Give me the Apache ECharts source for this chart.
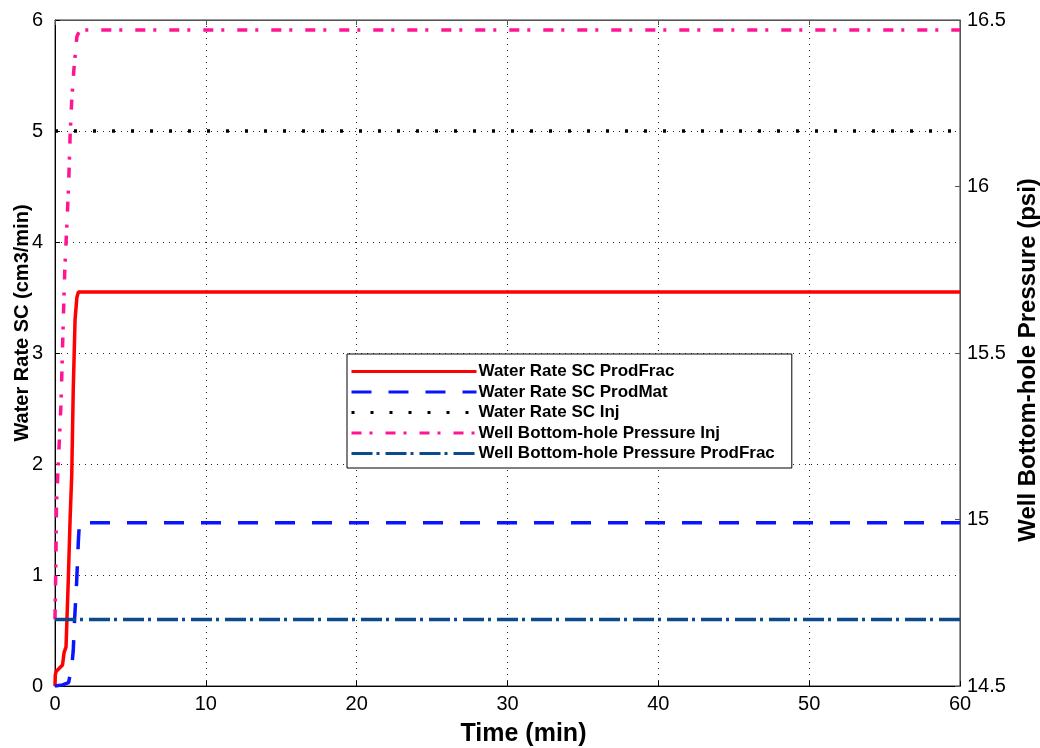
<!DOCTYPE html>
<html>
<head>
<meta charset="utf-8">
<script src="https://cdn.jsdelivr.net/npm/echarts@6/dist/echarts.min.js"></script>
<style>
  html, body { margin: 0; padding: 0; background: #fff; }
  #chart { width: 1040px; height: 748px; }
</style>
</head>
<body>
<div id="chart"></div>
<script>
// Time in minutes, water rates in cm3/min, pressures in psi
const prodFracTime = [0, 0.02, 0.07, 0.5, 0.6, 0.73, 0.88, 1.0, 1.11, 1.21, 1.33, 1.45, 1.55, 60];
const prodFracRate = [0, 0.1, 0.13, 0.19, 0.3, 0.35, 0.95, 1.5, 1.9, 2.67, 3.3, 3.5, 3.55, 3.55];

const prodMatTime = [0, 0.5, 0.9, 1.0, 1.11, 1.21, 1.3, 1.44, 1.55, 1.62, 60];
const prodMatRate = [0, 0.01, 0.03, 0.1, 0.17, 0.32, 0.6, 0.95, 1.31, 1.47, 1.47];

const injTime = [0, 60];
const injRate = [5, 5];

const injBhpTime = [0, 0.05, 0.1, 0.25, 0.4, 0.55, 0.65, 0.9, 1.0, 1.1, 1.25, 1.45, 1.65, 60];
const injBhp = [14.7, 14.85, 15.05, 15.2, 15.35, 15.6, 15.75, 16.0, 16.15, 16.25, 16.35, 16.45, 16.47, 16.47];

const prodFracBhpTime = [0, 60];
const prodFracBhp = [14.7, 14.7];

const timeTicks = { min: 0, max: 60, step: 10 };
const rateTicks = { min: 0, max: 6, step: 1 };
const pressureTicks = { min: 14.5, max: 16.5, step: 0.5 };

const seriesNames = [
  'Water Rate SC ProdFrac',
  'Water Rate SC ProdMat',
  'Water Rate SC Inj',
  'Well Bottom-hole Pressure Inj',
  'Well Bottom-hole Pressure ProdFrac'
];

const zip = (xs, ys) => xs.map((x, i) => [x, ys[i]]);

const styles = [
  { color: '#ff0000', width: 3.5, type: 'solid', axis: 0, data: zip(prodFracTime, prodFracRate) },
  { color: '#0a14ff', width: 3.5, type: [20, 17], axis: 0, data: zip(prodMatTime, prodMatRate) },
  { color: '#000000', width: 3.5, type: [3, 16], axis: 0, data: zip(injTime, injRate) },
  { color: '#ff1493', width: 3.5, type: [10, 8, 3, 13], axis: 1, data: zip(injBhpTime, injBhp) },
  { color: '#0b4a8c', width: 3.5, type: [21, 4, 3, 6], axis: 1, data: zip(prodFracBhpTime, prodFracBhp) }
];

const font = 'Liberation Sans, Arial, sans-serif';
const gridLine = { show: true, lineStyle: { color: '#000', width: 1, type: [1, 5], opacity: 0.85 } };

const chart = echarts.init(document.getElementById('chart'), null, { renderer: 'canvas' });

chart.setOption({
  animation: false,
  backgroundColor: '#fff',
  grid: {
    left: 55, right: 80, top: 20, bottom: 62,
    containLabel: false, outerBoundsMode: 'none',
    show: true, borderColor: '#333', borderWidth: 1
  },
  legend: {
    orient: 'vertical',
    left: 347,
    top: 354,
    backgroundColor: '#fff',
    borderColor: '#000',
    borderWidth: 1,
    borderRadius: 0,
    padding: [9, 17, 6, 3],
    itemWidth: 125,
    itemHeight: 14,
    itemGap: 3.5,
    align: 'left',
    textStyle: { fontFamily: font, fontWeight: 'bold', fontSize: 17, color: '#000', padding: [0, 0, 0, -3] },
    data: seriesNames.map((n, i) => ({
      name: n,
      itemStyle: { opacity: 0 },
      lineStyle: { color: styles[i].color, width: 3, type: styles[i].type }
    }))
  },
  xAxis: [
    {
      type: 'value', min: timeTicks.min, max: timeTicks.max, interval: timeTicks.step,
      name: 'Time (min)', nameLocation: 'middle', nameGap: 36, nameMoveOverlap: false,
      nameTextStyle: { fontFamily: font, fontWeight: 'bold', fontSize: 25, color: '#000', padding: [0, 0, 0, 32] },
      axisLine: { show: true, onZero: false, lineStyle: { color: '#000', width: 1 } },
      axisTick: { show: true, inside: true, length: 5, lineStyle: { color: '#000' } },
      axisLabel: { fontFamily: font, fontSize: 20, color: '#000', margin: 8 },
      splitLine: gridLine
    },
    {
      type: 'value', position: 'top', min: timeTicks.min, max: timeTicks.max, interval: timeTicks.step,
      axisLine: { show: true, onZero: false, lineStyle: { color: '#555', width: 1 } },
      axisTick: { show: true, inside: true, length: 5, lineStyle: { color: '#555' } },
      axisLabel: { show: false },
      splitLine: { show: false }
    }
  ],
  yAxis: [
    {
      type: 'value', position: 'left', min: rateTicks.min, max: rateTicks.max, interval: rateTicks.step,
      name: 'Water Rate SC (cm3/min)', nameLocation: 'middle', nameGap: 23, nameRotate: 90, nameMoveOverlap: false,
      nameTextStyle: { fontFamily: font, fontWeight: 'bold', fontSize: 20, color: '#000', padding: [0, 0, 0, 60] },
      axisLine: { show: true, onZero: false, lineStyle: { color: '#000', width: 1 } },
      axisTick: { show: true, inside: true, length: 5, lineStyle: { color: '#000' } },
      axisLabel: { fontFamily: font, fontSize: 20, color: '#000', margin: 12 },
      splitLine: gridLine
    },
    {
      type: 'value', position: 'right', min: pressureTicks.min, max: pressureTicks.max, interval: pressureTicks.step,
      name: 'Well Bottom-hole Pressure (psi)', nameLocation: 'middle', nameGap: 56, nameRotate: 90, nameMoveOverlap: false,
      nameTextStyle: { fontFamily: font, fontWeight: 'bold', fontSize: 24, color: '#000', padding: [0, 14, 0, 0] },
      axisLine: { show: true, onZero: false, lineStyle: { color: '#555', width: 1 } },
      axisTick: { show: true, inside: true, length: 5, lineStyle: { color: '#555' } },
      axisLabel: { fontFamily: font, fontSize: 20, color: '#000', margin: 7 },
      splitLine: { show: false }
    }
  ],
  series: styles.map((s, i) => ({
    name: seriesNames[i],
    type: 'line',
    yAxisIndex: s.axis,
    data: s.data,
    showSymbol: false,
    symbol: 'none',
    clip: false,
    z: 2 + i,
    lineStyle: { color: s.color, width: s.width, type: s.type },
    itemStyle: { color: s.color }
  }))
});
</script>
</body>
</html>
